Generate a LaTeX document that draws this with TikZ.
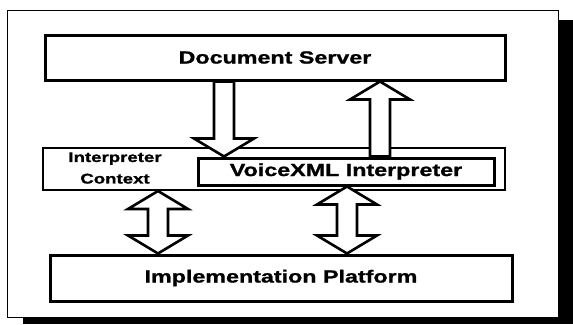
\documentclass[tikz,border=0pt]{standalone}
\usepackage{fontspec}
\usepackage{tikz}
\usetikzlibrary{calc}
\newfontfamily\boxfont{Liberation Sans Bold}[FakeStretch=1.33, FakeBold=1.2]

\newcommand{\shaftw}{10pt}
\newcommand{\headw}{30pt}
\newcommand{\headl}{18pt}

\tikzset{
	box/.style={draw, line width=3pt, fill=white, inner sep=0pt, font=\boxfont\fontsize{17.5}{20}\selectfont},
	small/.style={align=center, inner sep=0pt, font=\boxfont\fontsize{14}{21.5}\selectfont},
	fatarrow/.style={line width=2.6pt, fill=white, line join=miter, to path={
		($(\tikztostart)!\shaftw!90:(\tikztotarget)$)
		-- ($(\tikztotarget)!\headl!(\tikztostart)!\shaftw!90:(\tikztotarget)$)
		-- ($(\tikztotarget)!\headl!(\tikztostart)!\headw!90:(\tikztotarget)$)
		-- (\tikztotarget)
		-- ($(\tikztotarget)!\headl!(\tikztostart)!\headw!-90:(\tikztotarget)$)
		-- ($(\tikztotarget)!\headl!(\tikztostart)!\shaftw!-90:(\tikztotarget)$)
		-- ($(\tikztostart)!\shaftw!-90:(\tikztotarget)$)
		-- cycle \tikztonodes}},
	fatdouble/.style={line width=2.6pt, fill=white, line join=miter, to path={
		(\tikztostart)
		-- ($(\tikztostart)!\headl!(\tikztotarget)!\headw!90:(\tikztotarget)$)
		-- ($(\tikztostart)!\headl!(\tikztotarget)!\shaftw!90:(\tikztotarget)$)
		-- ($(\tikztotarget)!\headl!(\tikztostart)!\shaftw!90:(\tikztotarget)$)
		-- ($(\tikztotarget)!\headl!(\tikztostart)!\headw!90:(\tikztotarget)$)
		-- (\tikztotarget)
		-- ($(\tikztotarget)!\headl!(\tikztostart)!\headw!-90:(\tikztotarget)$)
		-- ($(\tikztotarget)!\headl!(\tikztostart)!\shaftw!-90:(\tikztotarget)$)
		-- ($(\tikztostart)!\headl!(\tikztotarget)!\shaftw!-90:(\tikztotarget)$)
		-- ($(\tikztostart)!\headl!(\tikztotarget)!\headw!-90:(\tikztotarget)$)
		-- cycle \tikztonodes}}
}

\begin{document}
\begin{tikzpicture}[x=1pt,y=-1pt]
%	\draw[help lines,step=10pt] (0,0) grid (573,324);
	\useasboundingbox (0,0) rectangle (573,324);

	% frame and its shadow
	\fill (23,20) rectangle (573,324);
	\draw[line width=1pt, fill=white] (7,10) rectangle (558,317);

	\node[box, minimum width=460pt, minimum height=45pt] (server) at (275,57.5) {Document Server};
	\node[box, line width=2pt, minimum width=462pt, minimum height=42pt] (ctx) at (274,169) {};
	\node[small] (ctxlabel) at (115,168) {Interpreter\\Context};
	\node[box, minimum width=296pt, minimum height=27pt] (vxml) at (346,171.5) {VoiceXML Interpreter};
	\node[box, minimum width=462pt, minimum height=46pt] (platform) at (281,278) {Implementation Platform};

	% arrows
	\coordinate (dn) at (224,0);
	\coordinate (up) at (380,0);
	\coordinate (lft) at (158,0);
	\coordinate (rgt) at (347,0);

	\draw[fatarrow] (server.south -| dn) to (vxml.north -| dn);
	\draw[fatarrow] (vxml.north -| up) to (server.south -| up);
	\draw[fatdouble] (ctx.south -| lft) to (platform.north -| lft);
	\draw[fatdouble] (vxml.south -| rgt) to (platform.north -| rgt);
\end{tikzpicture}
\end{document}
